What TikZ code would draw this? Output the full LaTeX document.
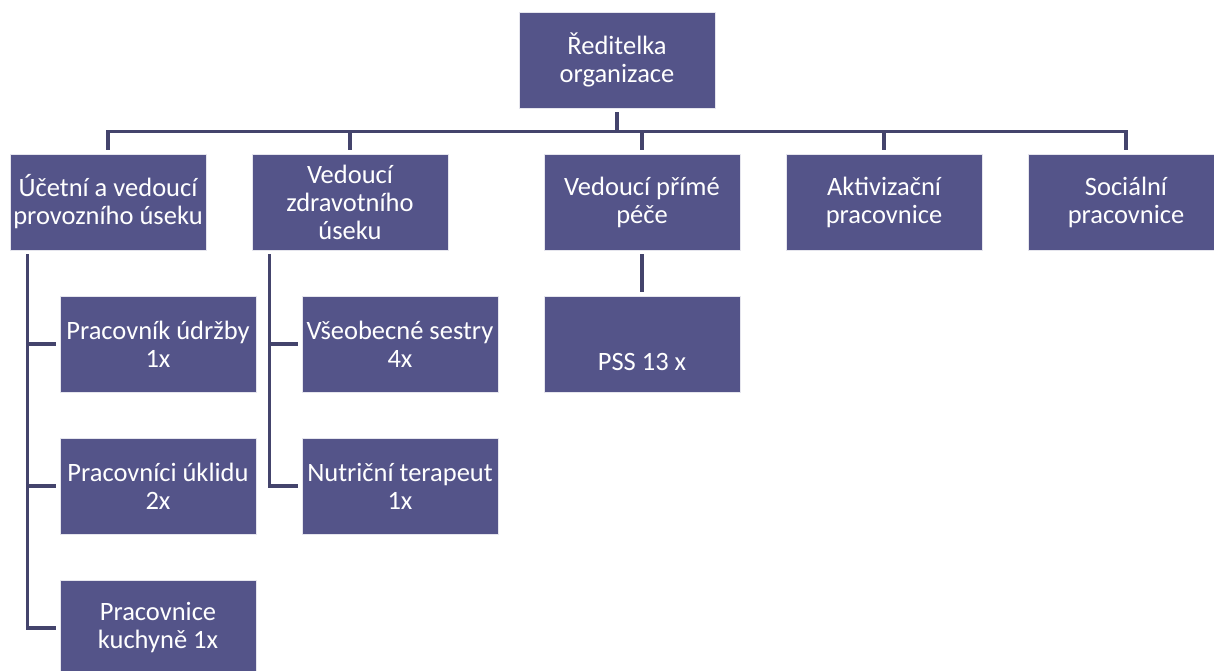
\documentclass[tikz,border=0pt]{standalone}
\usepackage{fontspec}
\setmainfont{Carlito}
\definecolor{boxfill}{RGB}{84,84,137}
\definecolor{linecol}{RGB}{68,68,108}
\begin{document}
\begin{tikzpicture}[x=1pt,y=-1pt,
  box/.style={fill=boxfill,draw=white!85!boxfill,line width=0.8pt,minimum width=196pt,minimum height=96pt,inner sep=0pt,
    text=white,align=center,font=\fontsize{26.5}{28}\selectfont},
  conn/.style={draw=linecol,line width=3.5pt}]
\useasboundingbox (0,0) rectangle (1214,671);
\clip (0,0) rectangle (1214,671);
\fill[white] (0,0) rectangle (1214,671);
% nodes
\node[box] (top) at (617,60) {Ředitelka\\organizace};
\node[box] (b1) at (108,202) {Účetní a vedoucí\\provozního úseku};
\node[box] (b2) at (350,202) {Vedoucí\\zdravotního\\úseku};
\node[box] (b3) at (642,202) {Vedoucí přímé\\péče};
\node[box] (b4) at (884,202) {Aktivizační\\pracovnice};
\node[box] (b5) at (1126,202) {Sociální\\pracovnice};
\node[box] (c1) at (158,344) {Pracovník údržby\\1x};
\node[box] (c2) at (158,486) {Pracovníci úklidu\\2x};
\node[box] (c3) at (158,628) {Pracovnice\\kuchyně 1x};
\node[box] (d1) at (400,344) {Všeobecné sestry\\4x};
\node[box] (d2) at (400,486) {Nutriční terapeut\\1x};
\node[box] (p1) at (642,344) {\mbox{}\\[26pt]PSS 13 x};
% connectors
\foreach \b in {b1,b2,b3,b4,b5}
  \draw[conn] ([yshift=-4pt]top.south) -- ++(0,-19pt) -| ([yshift=4pt]\b.north);
\foreach \c in {c1,c2,c3}
  \draw[conn] ([xshift=18pt,yshift=-4pt]b1.south west) |- ([xshift=-4pt]\c.west);
\foreach \d in {d1,d2}
  \draw[conn] ([xshift=18pt,yshift=-4pt]b2.south west) |- ([xshift=-4pt]\d.west);
\draw[conn] ([yshift=-4pt]b3.south) -- ([yshift=4pt]p1.north);
\end{tikzpicture}
\end{document}
